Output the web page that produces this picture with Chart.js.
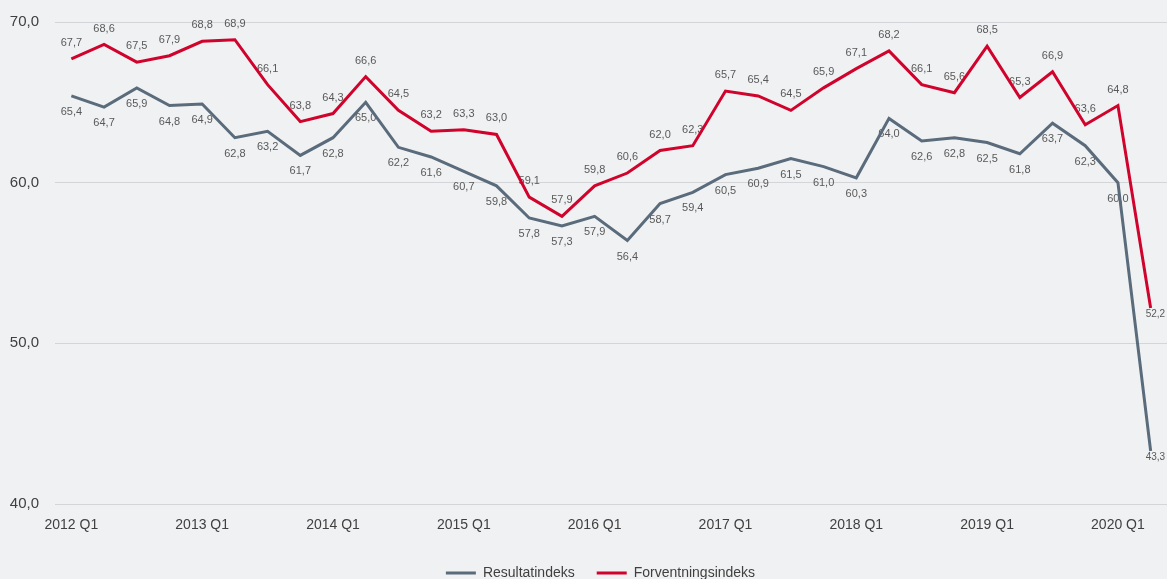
<!DOCTYPE html>
<html>
<head>
<meta charset="utf-8">
<script src="https://cdn.jsdelivr.net/npm/chart.js@4"></script>
<style>
    html, body { margin: 0; padding: 0; background: #f0f1f3; overflow: hidden; }
    #wrap { width: 1167px; height: 590px; }
</style>
</head>
<body>
<div id="wrap"><canvas id="chart"></canvas></div>
<script>
const quarters = []
for (let y = 2012; y <= 2020; y++) {
    for (let q = 1; q <= 4; q++) {
        if (y === 2020 && q > 2) break
        quarters.push(y + ' Q' + q)
    }
}

const resultatindeks = [65.4, 64.7, 65.9, 64.8, 64.9, 62.8, 63.2, 61.7, 62.8, 65.0, 62.2, 61.6, 60.7, 59.8, 57.8, 57.3, 57.9,
    56.4, 58.7, 59.4, 60.5, 60.9, 61.5, 61.0, 60.3, 64.0, 62.6, 62.8, 62.5, 61.8, 63.7, 62.3, 60.0, 43.3]
const forventningsindeks = [67.7, 68.6, 67.5, 67.9, 68.8, 68.9, 66.1, 63.8, 64.3, 66.6, 64.5, 63.2, 63.3, 63.0, 59.1, 57.9, 59.8,
    60.6, 62.0, 62.3, 65.7, 65.4, 64.5, 65.9, 67.1, 68.2, 66.1, 65.6, 68.5, 65.3, 66.9, 63.6, 64.8, 52.2]
const yTicks = [40, 50, 60, 70]

const GREY = '#5a6b7b'
const RED = '#d0032c'
const FONT = "'Liberation Sans', Arial, sans-serif"

const fmt = v => v.toFixed(1).replace('.', ',')

// --- value labels, drawn under the lines ---
const valueLabels = {
    id: 'valueLabels',
    afterLayout(chart) {
        // legend sits centred over the plot area rather than the whole canvas
        if (chart.legend) {
            chart.legend.left += 17
            chart.legend.right += 17
        }
    },
    beforeDatasetsDraw(chart) {
        const ctx = chart.ctx
        ctx.save()
        ctx.fillStyle = '#595959'
        chart.data.datasets.forEach((ds, di) => {
            const meta = chart.getDatasetMeta(di)
            meta.data.forEach((pt, i) => {
                const last = i === ds.data.length - 1
                if (last) {
                    ctx.font = '10px ' + FONT
                    ctx.textAlign = 'left'
                    ctx.textBaseline = 'middle'
                    ctx.fillText(fmt(ds.data[i]), pt.x - 5, pt.y + 6)
                    return
                }
                ctx.font = '11px ' + FONT
                ctx.textAlign = 'center'
                ctx.textBaseline = 'middle'
                const dy = ds.labelSide === 'below' ? 16 : -16
                ctx.fillText(fmt(ds.data[i]), pt.x, pt.y + dy)
            })
        })
        ctx.restore()
    }
}

new Chart(document.getElementById('chart'), {
    type: 'line',
    data: {
        labels: quarters,
        datasets: [{
            label: 'Resultatindeks',
            data: resultatindeks,
            borderColor: GREY,
            backgroundColor: GREY,
            borderWidth: 3,
            pointRadius: 0,
            tension: 0,
            labelSide: 'below'
        }, {
            label: 'Forventningsindeks',
            data: forventningsindeks,
            borderColor: RED,
            backgroundColor: RED,
            borderWidth: 3,
            pointRadius: 0,
            tension: 0,
            labelSide: 'above'
        }]
    },
    options: {
        responsive: true,
        maintainAspectRatio: false,
        animation: false,
        layout: { padding: { top: 22, right: 0, left: 0, bottom: 0 } },
        plugins: {
            legend: {
                position: 'bottom',
                labels: {
                    usePointStyle: true,
                    pointStyle: 'line',
                    pointStyleWidth: 30,
                    boxWidth: 30,
                    padding: 22,
                    color: '#404040',
                    font: { family: FONT, size: 14 }
                }
            },
            tooltip: { enabled: false }
        },
        scales: {
            x: {
                offset: true,
                grid: { display: false, drawTicks: false },
                border: { display: false },
                ticks: {
                    autoSkip: false,
                    maxRotation: 0,
                    padding: 13,
                    color: '#404040',
                    font: { family: FONT, size: 14 },
                    callback: (v, i) => i % 4 === 0 ? quarters[i] : ''
                },
                afterFit: s => { s.height = 40 }
            },
            y: {
                min: 40,
                max: 70,
                afterBuildTicks: s => { s.ticks = yTicks.map(v => ({ value: v })) },
                grid: { color: '#d4d5d8', lineWidth: 1, drawTicks: false },
                border: { display: false },
                ticks: {
                    padding: 16,
                    color: '#404040',
                    font: { family: FONT, size: 15 },
                    callback: v => fmt(v)
                },
                afterFit: s => {
                    s.width = 55
                    s.paddingTop = 0
                    s.paddingBottom = 0
                }
            }
        }
    },
    plugins: [valueLabels]
})
</script>
</body>
</html>
